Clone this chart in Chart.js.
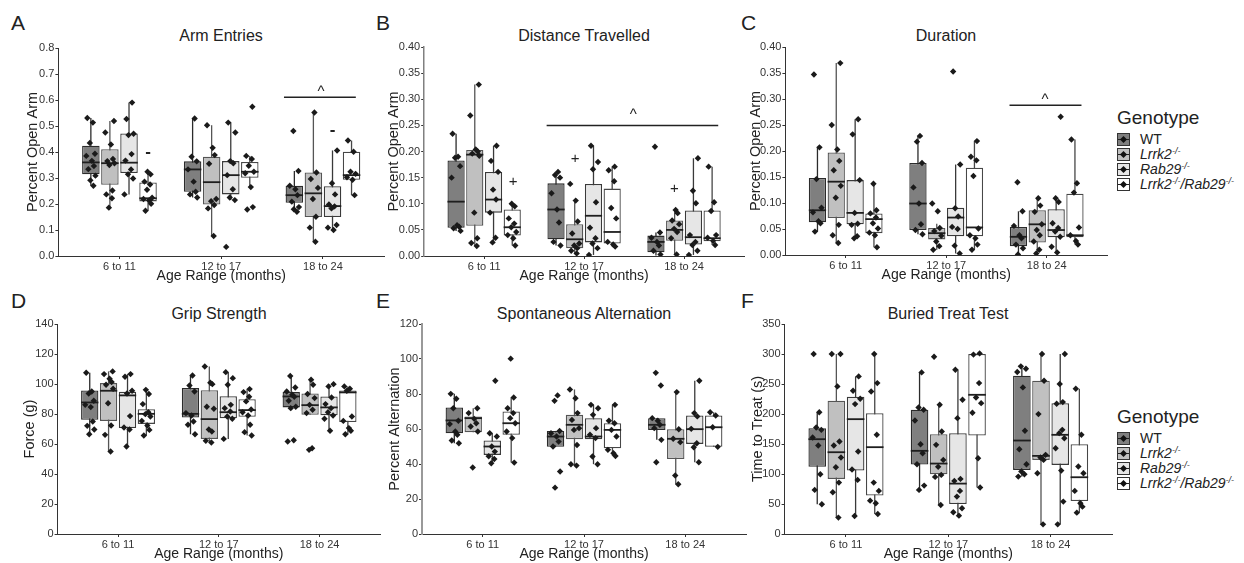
<!DOCTYPE html>
<html>
<head>
<meta charset="utf-8">
<script src="https://cdn.jsdelivr.net/npm/chart.js@4.4.0/dist/chart.umd.min.js"></script>
<style>
  body { margin: 0; width: 1244px; height: 563px; overflow: hidden; position: relative; background: #fff;
         font-family: "Liberation Sans", Arial, sans-serif; color: #222; }
  canvas { position: absolute; }
  .txt { position: absolute; line-height: 1; white-space: nowrap; }
  .letter { font-size: 21px; }
  .ttl { font-size: 16px; transform: translateX(-50%); }
  .lg { position: absolute; left: 1117px; }
  .lgt { font-size: 19px; line-height: 20px; height: 24px; }
  .lr { font-size: 14px; height: 15px; line-height: 15px; display: flex; align-items: center; }
  .lr sup { font-size: 9px; line-height: 0; vertical-align: 5px; }
  .key { display: inline-block; width: 11px; height: 11px; border: 1px solid #333; position: relative; margin-right: 10px; box-sizing: content-box; }
  .key::before { content: ""; position: absolute; left: 0; right: 0; top: 5px; height: 1px; background: #222; }
  .key::after { content: ""; position: absolute; left: 3px; top: 3px; width: 5px; height: 5px; background: #111; transform: rotate(45deg); }
</style>
</head>
<body>

<div class="txt letter" style="left:11px;top:12px">A</div>
<div class="txt letter" style="left:376px;top:12px">B</div>
<div class="txt letter" style="left:741px;top:12px">C</div>
<div class="txt letter" style="left:11px;top:290px">D</div>
<div class="txt letter" style="left:376px;top:290px">E</div>
<div class="txt letter" style="left:741px;top:290px">F</div>

<div class="txt ttl" style="left:221px;top:28px">Arm Entries</div>
<div class="txt ttl" style="left:584px;top:28px">Distance Travelled</div>
<div class="txt ttl" style="left:946px;top:28px">Duration</div>
<div class="txt ttl" style="left:219px;top:306px">Grip Strength</div>
<div class="txt ttl" style="left:584px;top:306px">Spontaneous Alternation</div>
<div class="txt ttl" style="left:948px;top:306px">Buried Treat Test</div>

<div class="lg" style="top:108px">
  <div class="lgt">Genotype</div>
  <div class="lr"><span class="key" style="background:#7f7f7f"></span><span>WT</span></div>
  <div class="lr"><span class="key" style="background:#c0c0c0"></span><i>Lrrk2<sup>-/-</sup></i></div>
  <div class="lr"><span class="key" style="background:#e6e6e6"></span><i>Rab29<sup>-/-</sup></i></div>
  <div class="lr"><span class="key" style="background:#ffffff"></span><i>Lrrk2<sup>-/-</sup>/Rab29<sup>-/-</sup></i></div>
</div>
<div class="lg" style="top:407px">
  <div class="lgt">Genotype</div>
  <div class="lr"><span class="key" style="background:#7f7f7f"></span><span>WT</span></div>
  <div class="lr"><span class="key" style="background:#c0c0c0"></span><i>Lrrk2<sup>-/-</sup></i></div>
  <div class="lr"><span class="key" style="background:#e6e6e6"></span><i>Rab29<sup>-/-</sup></i></div>
  <div class="lr"><span class="key" style="background:#ffffff"></span><i>Lrrk2<sup>-/-</sup>/Rab29<sup>-/-</sup></i></div>
</div>

<script>
// categories / genotypes
const ageGroups = ["6 to 11", "12 to 17", "18 to 24"];
const genotypes = ["WT", "Lrrk2-/-", "Rab29-/-", "Lrrk2-/-/Rab29-/-"];

// box stats per box: [min, q1, median, q3, max], order = age group x genotype
const armStats = [
  [0.27, 0.314, 0.36, 0.424, 0.531], [0.186, 0.274, 0.357, 0.411, 0.519], [0.237, 0.319, 0.359, 0.471, 0.59], [0.174, 0.21, 0.222, 0.283, 0.324],
  [0.225, 0.247, 0.333, 0.364, 0.529], [0.077, 0.198, 0.284, 0.382, 0.503], [0.215, 0.237, 0.311, 0.365, 0.513], [0.265, 0.301, 0.324, 0.362, 0.385],
  [0.17, 0.205, 0.234, 0.27, 0.327], [0.055, 0.15, 0.241, 0.321, 0.552], [0.1, 0.15, 0.192, 0.268, 0.406], [0.234, 0.293, 0.311, 0.401, 0.444]
];
const armPts = [
  [0.531, 0.513, 0.435, 0.393, 0.385, 0.366, 0.346, 0.334, 0.309, 0.291, 0.27],
  [0.519, 0.475, 0.429, 0.373, 0.365, 0.357, 0.35, 0.252, 0.237, 0.222, 0.186],
  [0.59, 0.527, 0.47, 0.465, 0.392, 0.367, 0.333, 0.314, 0.298, 0.237],
  [0.324, 0.314, 0.286, 0.275, 0.255, 0.224, 0.219, 0.214, 0.201, 0.174],
  [0.529, 0.382, 0.364, 0.333, 0.286, 0.247, 0.237, 0.225],
  [0.503, 0.416, 0.388, 0.355, 0.219, 0.211, 0.196, 0.183, 0.077],
  [0.513, 0.475, 0.365, 0.357, 0.311, 0.257, 0.225, 0.215, 0.035],
  [0.574, 0.385, 0.373, 0.347, 0.324, 0.318, 0.265, 0.188, 0.179],
  [0.481, 0.327, 0.27, 0.257, 0.234, 0.209, 0.188, 0.18, 0.17],
  [0.552, 0.321, 0.296, 0.262, 0.219, 0.151, 0.109, 0.055],
  [0.406, 0.28, 0.237, 0.198, 0.191, 0.183, 0.119, 0.109, 0.1],
  [0.444, 0.401, 0.324, 0.316, 0.303, 0.293, 0.234]
];

const distStats = [
  [0.048, 0.054, 0.104, 0.183, 0.234], [0.019, 0.058, 0.194, 0.203, 0.328], [0.026, 0.083, 0.108, 0.161, 0.211], [0.02, 0.039, 0.055, 0.089, 0.1],
  [0.02, 0.032, 0.089, 0.139, 0.161], [0.005, 0.015, 0.032, 0.061, 0.106], [0.002, 0.026, 0.077, 0.138, 0.211], [0.018, 0.024, 0.046, 0.129, 0.171],
  [0.001, 0.007, 0.027, 0.039, 0.045], [0.003, 0.029, 0.05, 0.068, 0.088], [0.002, 0.022, 0.036, 0.087, 0.187], [0.021, 0.028, 0.034, 0.087, 0.171]
];
const distPts = [
  [0.234, 0.19, 0.188, 0.172, 0.15, 0.059, 0.056, 0.053, 0.048],
  [0.328, 0.269, 0.204, 0.2, 0.196, 0.192, 0.083, 0.034, 0.025, 0.019],
  [0.211, 0.182, 0.161, 0.127, 0.108, 0.083, 0.035, 0.026],
  [0.1, 0.095, 0.072, 0.062, 0.055, 0.046, 0.04, 0.034, 0.02],
  [0.161, 0.155, 0.15, 0.12, 0.089, 0.064, 0.027, 0.02],
  [0.138, 0.106, 0.066, 0.043, 0.024, 0.02, 0.015, 0.01, 0.005],
  [0.211, 0.18, 0.166, 0.103, 0.054, 0.034, 0.024, 0.015, 0.002],
  [0.171, 0.164, 0.143, 0.092, 0.072, 0.027, 0.022, 0.018],
  [0.209, 0.045, 0.035, 0.027, 0.02, 0.01, 0.003],
  [0.088, 0.082, 0.068, 0.061, 0.052, 0.046, 0.034, 0.003],
  [0.187, 0.125, 0.101, 0.04, 0.027, 0.021, 0.01, 0.002],
  [0.171, 0.103, 0.086, 0.04, 0.035, 0.029, 0.021]
];

const durStats = [
  [0.045, 0.063, 0.086, 0.148, 0.207], [0.023, 0.071, 0.141, 0.197, 0.369], [0.032, 0.059, 0.081, 0.144, 0.261], [0.015, 0.042, 0.069, 0.08, 0.137],
  [0.04, 0.048, 0.099, 0.177, 0.229], [0.01, 0.03, 0.042, 0.052, 0.06], [0.003, 0.036, 0.072, 0.091, 0.174], [0.01, 0.036, 0.053, 0.168, 0.219],
  [0.001, 0.017, 0.035, 0.054, 0.084], [0.003, 0.024, 0.059, 0.086, 0.109], [0.005, 0.034, 0.048, 0.088, 0.109], [0.02, 0.034, 0.038, 0.118, 0.222]
];
const durPts = [
  [0.347, 0.207, 0.146, 0.091, 0.082, 0.065, 0.061, 0.045],
  [0.369, 0.25, 0.203, 0.181, 0.163, 0.133, 0.11, 0.058, 0.038, 0.023],
  [0.261, 0.232, 0.144, 0.081, 0.06, 0.058, 0.036, 0.032],
  [0.137, 0.086, 0.08, 0.072, 0.061, 0.051, 0.043, 0.038, 0.015],
  [0.229, 0.218, 0.177, 0.13, 0.099, 0.059, 0.048, 0.04],
  [0.099, 0.084, 0.052, 0.046, 0.037, 0.026, 0.017, 0.01],
  [0.353, 0.174, 0.09, 0.074, 0.054, 0.05, 0.018, 0.003],
  [0.219, 0.189, 0.182, 0.152, 0.051, 0.038, 0.032, 0.02, 0.01],
  [0.14, 0.084, 0.056, 0.038, 0.032, 0.02, 0.013, 0.001],
  [0.109, 0.095, 0.083, 0.059, 0.048, 0.038, 0.026, 0.01, 0.003],
  [0.266, 0.109, 0.102, 0.061, 0.052, 0.045, 0.035, 0.016, 0.005],
  [0.222, 0.138, 0.12, 0.053, 0.038, 0.027, 0.02]
];

const gripStats = [
  [66.5, 76.1, 87.7, 95.7, 107.5], [55, 75.4, 95.5, 100.6, 108.4], [58.3, 70.6, 92.4, 94.8, 106.6], [65.7, 73.4, 80.1, 83.2, 96.1],
  [66.5, 77.7, 80.1, 97.3, 105.7], [61, 63.4, 76.6, 95.9, 111.7], [63.4, 77.2, 81.2, 91.9, 107.9], [65.7, 78.1, 82.6, 89.9, 96.6],
  [83.9, 84.4, 91.7, 94.6, 105.3], [79.5, 79.5, 85.9, 93.7, 102.8], [68.8, 79.2, 84.4, 91.7, 99.9], [66.5, 74.6, 94.4, 95.7, 98.4]
];
const gripPts = [
  [107.5, 95, 93.7, 88.8, 86.1, 84.6, 75, 72.1, 69.7, 66.5],
  [108.4, 106.6, 103.5, 101.3, 99.5, 96.8, 87.2, 72.3, 66.1, 55],
  [106.6, 104.8, 95.5, 93.7, 78.6, 71, 69.7, 58.3],
  [96.1, 93.3, 86.6, 81.2, 79.9, 78.3, 75.4, 72.3, 69.4, 65.7],
  [105.7, 99, 95, 80.6, 79, 75, 72.8, 66.5],
  [111.7, 100.8, 99.9, 84.8, 83.5, 69.7, 68.3, 62.1, 61],
  [107.9, 103.9, 99.5, 86.1, 83.9, 81.7, 78.3, 76.8, 63.4],
  [96.6, 94.6, 91.5, 88.4, 83, 81.2, 79, 72.8, 67.9, 65.7],
  [105.3, 97.7, 95, 92.8, 91.5, 88.8, 84.8, 83.9, 62.5, 61.7],
  [102.8, 99.5, 93.3, 90.6, 86.1, 82.8, 80.6, 57.2, 56.1],
  [99.9, 98.4, 91, 86.6, 83.9, 81.2, 79, 76.8, 68.8],
  [98.4, 96.8, 95.5, 78.3, 75.4, 70.6, 68.8, 66.5]
];

const altStats = [
  [51.9, 57.6, 64.9, 72.3, 80.1], [58.2, 58.2, 66.2, 67.2, 71.9], [40.4, 45.2, 50, 53.4, 57.6], [40.8, 56.7, 63.3, 70, 78],
  [49.8, 49.8, 55.7, 58.9, 58.9], [39.1, 54.2, 62.4, 68.1, 82.6], [39.9, 54.2, 55.7, 66.2, 73.8], [44.6, 49, 59.5, 63.3, 73.8],
  [53.8, 59.5, 62.4, 66.2, 66.2], [28.4, 42.9, 54.4, 59.9, 81.1], [41, 51.5, 59.9, 67.7, 87.6], [49.8, 49.8, 61, 67.7, 69.6]
];
const altPts = [
  [80.1, 77.3, 71.9, 64.7, 62.8, 58.6, 56.7, 53.4, 51.9],
  [71.9, 69.1, 65.8, 63.3, 61.4, 58.6, 38],
  [87.6, 57.6, 55.7, 50, 47.1, 44.4, 42.9, 40.4],
  [100.2, 78, 71.9, 69.1, 66.2, 63.3, 58.6, 54.8, 40.8],
  [79.2, 76.1, 58.9, 57.6, 55.7, 52.8, 50, 35.7, 26.5],
  [82.6, 77.6, 69.1, 65.2, 60.5, 59.5, 50.9, 39.9, 39.1],
  [73.8, 71.9, 68.1, 60.5, 56.7, 54.8, 44.3, 39.9],
  [73.8, 64.7, 63.3, 59.5, 55.7, 48.1, 46.2, 44.6],
  [92.1, 84.9, 66.2, 64.7, 62.4, 60.5, 53.8, 41],
  [81.1, 59.9, 54.4, 52.5, 33.4, 28.4],
  [87.6, 69.1, 67.2, 60.1, 51.9, 49.6, 41],
  [69.6, 67.7, 61, 49.8]
];

const treatStats = [
  [49.5, 111.9, 158, 176.4, 203], [27.3, 91.8, 136.3, 222, 300], [30, 105.7, 191.4, 228.7, 262.7], [33.4, 64, 144.7, 201.4, 300],
  [73.5, 115.7, 138.6, 207, 269.3], [48.4, 99.6, 117.4, 166.4, 215.4], [30.6, 50.1, 84, 168.1, 273.8], [77.4, 164.2, 232, 300, 300],
  [95.7, 106.8, 155.8, 263.8, 279.4], [16.1, 123.5, 130.2, 255.4, 300], [16.1, 115.2, 165.3, 218.1, 300], [35.6, 55.1, 94.6, 149.7, 242]
];
const treatPts = [
  [300, 203, 177.5, 173.6, 160.8, 147.5, 99.6, 73.5, 49.5],
  [300, 300, 246, 154.1, 147.5, 127.4, 111.3, 85.7, 69.6, 27.3],
  [262.7, 238.7, 225.4, 216.5, 137.4, 107.4, 90.2, 30],
  [300, 251.5, 237.6, 165.3, 85.7, 71.8, 55.6, 51.2, 33.4],
  [269.3, 210.9, 207, 189.2, 149.7, 134.7, 116.3, 80.7, 73.5],
  [295.5, 215.4, 170.8, 148.6, 123.5, 111.9, 98.5, 95.2, 48.4],
  [273.8, 223.7, 193.1, 91.8, 88.5, 71.8, 62.3, 42.8, 36.2, 30.6],
  [301, 299, 251.5, 227.6, 218.1, 202, 126.3, 77.4],
  [279.4, 275.5, 269.9, 244.3, 172, 141.3, 116.3, 104.1, 99.6, 95.7],
  [300, 255.4, 199.8, 131.9, 127.4, 123.5, 101.3, 16.1],
  [300, 249.9, 219.8, 217, 173.6, 168.1, 159.7, 143, 105.7, 54, 16.1],
  [242, 165.3, 112.4, 101.3, 71.8, 51.2, 45.6, 35.6]
];

// significance marks, in data units
const armMarks = { lines: [[2.617, 3.323, 0.611]], text: [[2.98, 0.644, "^"], [1.281, 0.397, "-"], [3.094, 0.483, "-"]] };
const distMarks = { lines: [[1.625, 3.342, 0.25]], text: [[1.291, 0.142, "+"], [1.909, 0.185, "+"], [2.903, 0.128, "+"], [2.493, 0.275, "^"]] };
const durMarks = { lines: [[2.63, 3.346, 0.288]], text: [[2.983, 0.304, "^"]] };
const noMarks = { lines: [], text: [] };

// styling
const fills = ["#7f7f7f", "#c0c0c0", "#e6e6e6", "#ffffff"];
const edges = ["#2b2b2b", "#555555", "#3a3a3a", "#474747"];
const dodge = [-0.281, -0.094, 0.094, 0.281];
const jit = [-0.035, 0.02, -0.01, 0.04, -0.045, 0.01, 0.03, -0.025, 0.045, -0.005, 0.025];

Chart.defaults.font.family = '"Liberation Sans", Arial, sans-serif';

function boxParts(stats) {
  return {
    id: "boxParts",
    beforeDatasetDraw(chart, args) {
      if (args.meta.type !== "bar") return;
      const y = chart.scales.y;
      const ctx = chart.ctx;
      ctx.save();
      ctx.lineWidth = 1.3;
      args.meta.data.forEach((bar, i) => {
        ctx.strokeStyle = edges[i % 4];
        ctx.beginPath();
        ctx.moveTo(bar.x, y.getPixelForValue(stats[i][0]));
        ctx.lineTo(bar.x, y.getPixelForValue(stats[i][4]));
        ctx.stroke();
      });
      ctx.restore();
    },
    afterDatasetDraw(chart, args) {
      if (args.meta.type !== "bar") return;
      const y = chart.scales.y;
      const ctx = chart.ctx;
      ctx.save();
      ctx.lineWidth = 1.8;
      ctx.strokeStyle = "#1e1e1e";
      args.meta.data.forEach((bar, i) => {
        const py = y.getPixelForValue(stats[i][2]);
        ctx.beginPath();
        ctx.moveTo(bar.x - bar.width / 2, py);
        ctx.lineTo(bar.x + bar.width / 2, py);
        ctx.stroke();
      });
      ctx.restore();
    }
  };
}

function sigMarks(marks) {
  return {
    id: "sigMarks",
    afterDraw(chart) {
      const { ctx, scales: { x, y } } = chart;
      ctx.save();
      ctx.strokeStyle = "#222";
      ctx.fillStyle = "#222";
      ctx.lineWidth = 1.5;
      marks.lines.forEach(([x1, x2, v]) => {
        ctx.beginPath();
        ctx.moveTo(x.getPixelForValue(x1), y.getPixelForValue(v));
        ctx.lineTo(x.getPixelForValue(x2), y.getPixelForValue(v));
        ctx.stroke();
      });
      ctx.textAlign = "center";
      ctx.textBaseline = "middle";
      marks.text.forEach(([xv, v, t]) => {
        ctx.font = (t === "-" ? "bold 17px" : "15px") + ' "Liberation Sans", Arial, sans-serif';
        const shift = t === "^" ? 3 : 0;
        ctx.fillText(t, x.getPixelForValue(xv), y.getPixelForValue(v) + shift);
      });
      ctx.restore();
    }
  };
}

function makePanel(p) {
  const H = 29, padTop = 12, padRight = 6;
  const w = Math.round(p.R - p.L + p.W + padRight);
  const h = Math.round(p.B - p.T + padTop + H);
  const canvas = document.createElement("canvas");
  canvas.width = w;
  canvas.height = h;
  canvas.style.left = (p.L - p.W) + "px";
  canvas.style.top = (p.T - padTop) + "px";
  canvas.style.width = w + "px";
  canvas.style.height = h + "px";
  document.body.appendChild(canvas);

  const boxes = p.stats.map((s, i) => ({ x: Math.floor(i / 4) + 1 + dodge[i % 4], y: [s[1], s[3]] }));
  const dots = [];
  p.pts.forEach((list, i) => {
    list.forEach((v, j) => {
      dots.push({ x: Math.floor(i / 4) + 1 + dodge[i % 4] + jit[(j + i * 3) % jit.length], y: v });
    });
  });

  new Chart(canvas, {
    type: "bar",
    data: {
      datasets: [
        {
          type: "scatter",
          data: dots,
          pointStyle: "rectRot",
          radius: 3.2,
          backgroundColor: "#1a1a1a",
          borderWidth: 0,
          order: 0
        },
        {
          type: "bar",
          data: boxes,
          backgroundColor: p.stats.map((s, i) => fills[i % 4]),
          borderColor: p.stats.map((s, i) => edges[i % 4]),
          borderWidth: 1.3,
          borderSkipped: false,
          categoryPercentage: 1,
          barPercentage: 0.92,
          order: 1
        }
      ]
    },
    options: {
      responsive: false,
      animation: false,
      devicePixelRatio: 1,
      layout: { padding: { top: padTop, right: padRight, left: 0, bottom: 0 } },
      plugins: { legend: { display: false }, tooltip: { enabled: false } },
      scales: {
        x: {
          type: "linear",
          min: 0.4,
          max: 3.6,
          offset: false,
          afterBuildTicks(s) { s.ticks = [1, 2, 3].map((v) => ({ value: v })); },
          afterFit(s) { s.height = H; },
          ticks: {
            callback: (v) => ageGroups[v - 1],
            font: { size: 11 },
            color: "#333",
            padding: 1,
            maxRotation: 0,
            autoSkip: false
          },
          grid: { drawOnChartArea: false, offset: false, tickLength: 3, color: "#333" },
          border: { color: "#333", width: 1 },
          title: { display: true, text: "Age Range (months)", font: { size: 14 }, color: "#222", padding: 0 }
        },
        y: {
          type: "linear",
          min: 0,
          max: p.ymax,
          afterFit(s) { s.width = p.W; },
          ticks: {
            stepSize: p.step,
            callback: (v) => v.toFixed(p.dec),
            font: { size: 11 },
            color: "#333",
            padding: 1
          },
          grid: { drawOnChartArea: false, tickLength: 3, color: "#333" },
          border: { color: p.yColor || "#333", width: p.yWidth || 1 },
          title: { display: true, text: p.ytitle, font: { size: 14.5 }, color: "#222", padding: 0 }
        }
      }
    },
    plugins: [boxParts(p.stats), sigMarks(p.marks)]
  });
}

makePanel({ L: 58, T: 47.7, R: 383.8, B: 256, W: 34.4, stats: armStats, pts: armPts, ymax: 0.8, step: 0.1, dec: 1, ytitle: "Percent Open Arm", marks: armMarks });
makePanel({ L: 424.3, T: 46.7, R: 743.8, B: 256, W: 39.2, stats: distStats, pts: distPts, ymax: 0.4, step: 0.05, dec: 2, ytitle: "Percent Open Arm", marks: distMarks, yColor: "#808080", yWidth: 1.5 });
makePanel({ L: 785.5, T: 46.7, R: 1107, B: 255, W: 38.4, stats: durStats, pts: durPts, ymax: 0.4, step: 0.05, dec: 2, ytitle: "Percent Open Arm", marks: durMarks });
makePanel({ L: 57.7, T: 324.3, R: 380.3, B: 534, W: 36.6, stats: gripStats, pts: gripPts, ymax: 140, step: 20, dec: 0, ytitle: "Force (g)", marks: noMarks });
makePanel({ L: 422.3, T: 324.3, R: 746, B: 534, W: 36, stats: altStats, pts: altPts, ymax: 120, step: 20, dec: 0, ytitle: "Percent Alternation", marks: noMarks, yColor: "#999", yWidth: 2 });
makePanel({ L: 785, T: 324.3, R: 1112, B: 534, W: 35.6, stats: treatStats, pts: treatPts, ymax: 350, step: 50, dec: 0, ytitle: "Time to Treat (s)", marks: noMarks });
</script>
</body>
</html>
